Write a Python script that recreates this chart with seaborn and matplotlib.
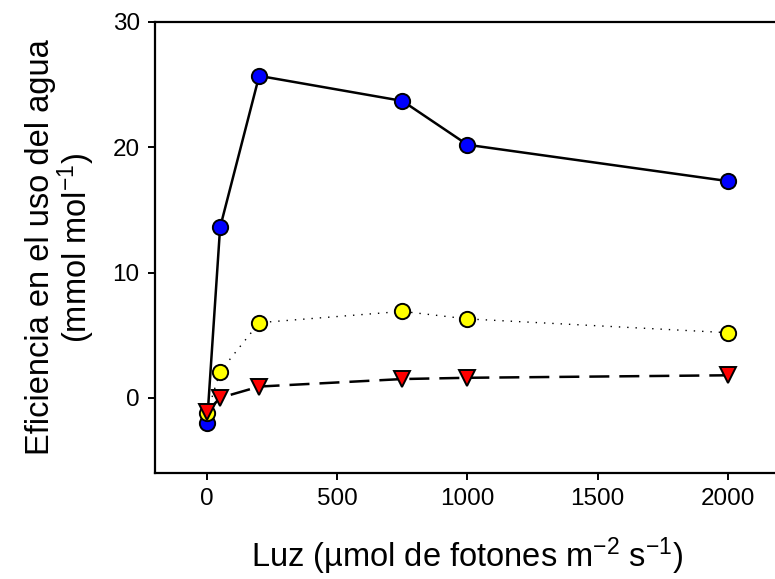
import matplotlib
matplotlib.use("Agg")
import matplotlib.pyplot as plt
import seaborn as sns
import pandas as pd

# Light levels (µmol photons m-2 s-1)
luz = [0, 50, 200, 750, 1000, 2000]

# Water-use efficiency (mmol mol-1) for each series
eua_azul = [-2.0, 13.6, 25.7, 23.7, 20.2, 17.3]
eua_amarillo = [-1.2, 2.1, 6.0, 6.9, 6.3, 5.2]
eua_rojo = [-1.1, 0.0, 0.9, 1.5, 1.6, 1.8]

x_ticks = [0, 500, 1000, 1500, 2000]
y_ticks = [0, 10, 20, 30]

sns.set_theme(style="ticks")
plt.rcParams["font.family"] = ["Liberation Sans", "DejaVu Sans"]
plt.rcParams["mathtext.fontset"] = "custom"
plt.rcParams["mathtext.rm"] = "Liberation Sans"
plt.rcParams["mathtext.it"] = "Liberation Sans"

fig = plt.figure(figsize=(7.75, 5.79), dpi=100)
ax = fig.add_axes([155 / 775, 106 / 579, 625 / 775, 451 / 579])

series = [
    (eua_azul, "#0000ff", "o", "-", 1.8, 11.0),
    (eua_amarillo, "#ffff00", "o", (0, (1, 5)), 1.0, 11.0),
    (eua_rojo, "#ff0000", "v", (0, (8, 4)), 1.8, 12.0),
]

for vals, fc, mk, ls, lw, ms in series:
    df = pd.DataFrame({"luz": luz, "eua": vals})
    sns.lineplot(
        data=df, x="luz", y="eua", ax=ax, color="black",
        linestyle=ls, linewidth=lw, marker=mk, markersize=ms,
        markerfacecolor=fc, markeredgecolor="black", markeredgewidth=1.4,
        sort=False, estimator=None,
    )

ax.set_xlim(-200, 2200)
ax.set_ylim(-6, 30)
ax.set_xticks(x_ticks)
ax.set_yticks(y_ticks)

for side in ["left", "bottom", "top", "right"]:
    ax.spines[side].set_visible(True)
    ax.spines[side].set_linewidth(1.6)
    ax.spines[side].set_color("black")

ax.tick_params(axis="both", direction="out", length=5, width=1.4,
               labelsize=17.5, colors="black", pad=6)

ax.set_xlabel("Luz (µmol de fotones m$^{-2}$ s$^{-1}$)", fontsize=23.5,
              labelpad=18, color="black")
ax.set_ylabel("Eficiencia en el uso del agua\n(mmol mol$^{-1}$)",
              fontsize=23.5, labelpad=11, color="black", linespacing=1.0)

fig.savefig("out.png", dpi=100)
